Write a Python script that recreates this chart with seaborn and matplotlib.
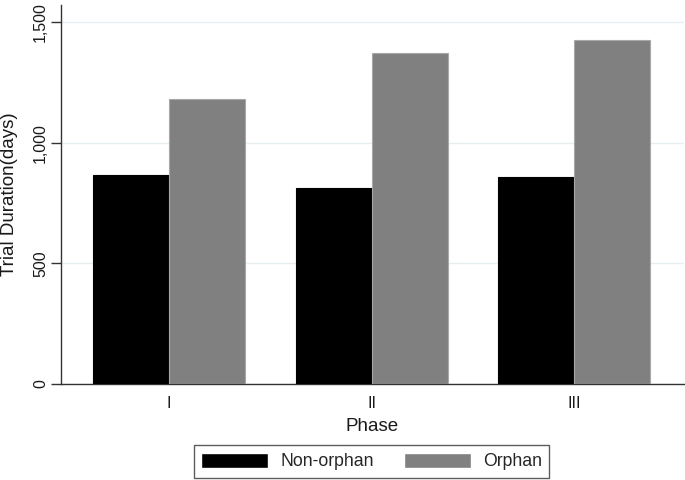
import matplotlib
matplotlib.use("Agg")
import matplotlib.pyplot as plt
import seaborn as sns
import pandas as pd

phases = ["I", "II", "III"]
groups = ["Non-orphan", "Orphan"]
non_orphan = [868, 814, 858]
orphan = [1183, 1373, 1426]
y_ticks = [0, 500, 1000, 1500]
y_tick_labels = ["0", "500", "1,000", "1,500"]

df = pd.DataFrame({
    "Phase": phases * 2,
    "Group": [groups[0]] * 3 + [groups[1]] * 3,
    "Days": non_orphan + orphan,
})

sns.set_theme(style="white")
plt.rcParams["font.family"] = ["Liberation Sans", "DejaVu Sans"]

fig = plt.figure(figsize=(6.85, 4.8), dpi=100)
ax = fig.add_axes([61 / 685, 1 - 384 / 480, (684 - 61) / 685, (384 - 5) / 480])

sns.barplot(data=df, x="Phase", y="Days", hue="Group", order=phases,
            hue_order=groups, palette=["#000000", "#808080"], width=0.75,
            saturation=1, ax=ax, zorder=3, legend=True)

for cont, ec in zip(ax.containers, ["#000000", "#a8a8a8"]):
    for p in cont:
        p.set_edgecolor(ec)
        p.set_linewidth(0.8)

ax.set_xlim(-0.533, 2.541)
ax.set_ylim(0, 1571)
ax.set_yticks(y_ticks)
ax.set_yticklabels(y_tick_labels)
ax.yaxis.grid(True, color="#e6eef0", linewidth=1.0, zorder=0)
ax.xaxis.grid(False)

for s in ["top", "right"]:
    ax.spines[s].set_visible(False)
for s in ["left", "bottom"]:
    ax.spines[s].set_color("#333333")
    ax.spines[s].set_linewidth(1.0)

ax.tick_params(axis="y", which="major", left=True, length=7.2, width=1.0,
               color="#333333", labelsize=11.5, pad=2, labelcolor="#1a1a1a")
ax.tick_params(axis="x", which="major", bottom=False, labelsize=11.5,
               pad=3, labelcolor="#1a1a1a")
plt.setp(ax.get_yticklabels(), rotation=90, va="center")

ax.set_ylabel("Trial Duration(days)", fontsize=13.5, color="#1a1a1a")
ax.yaxis.label.set_verticalalignment("center")
ax.yaxis.set_label_coords(-0.082, 0.5)
ax.set_xlabel("Phase", fontsize=13.5, color="#1a1a1a", labelpad=4.5)

handles, labels = ax.get_legend_handles_labels()
ax.legend_.remove()
leg = fig.legend(handles, labels, loc="center",
                 bbox_to_anchor=(371.5 / 685, 1 - 461.5 / 480),
                 ncol=2, fontsize=12.7, frameon=True, fancybox=False,
                 edgecolor="#333333", handlelength=3.8, handleheight=1.0,
                 handletextpad=0.7, columnspacing=1.7, borderpad=0.4,
                 borderaxespad=0)
leg.get_frame().set_linewidth(1.0)

fig.savefig("out.png", dpi=100, facecolor="white")
